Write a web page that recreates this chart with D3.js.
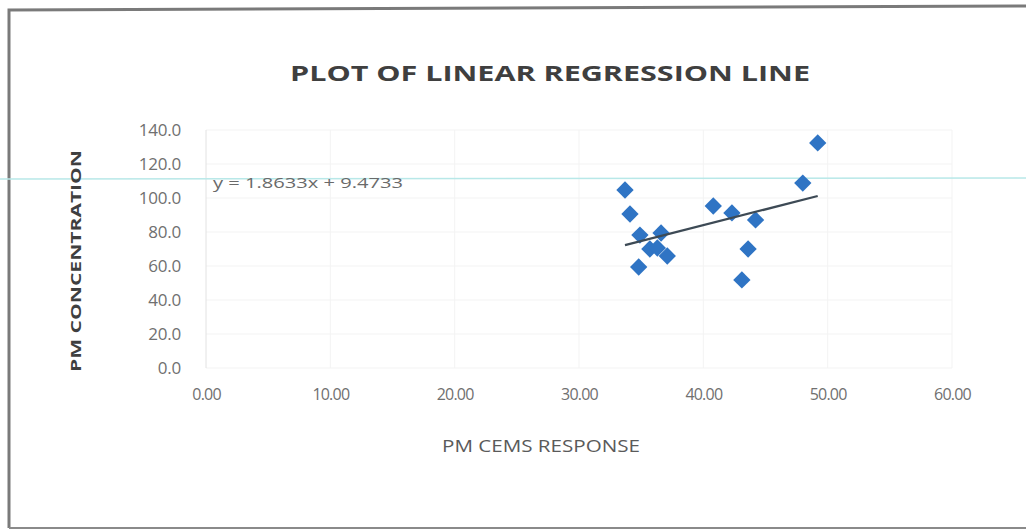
<!DOCTYPE html>
<html><head><meta charset="utf-8">
<script src="https://cdn.jsdelivr.net/npm/d3@7"></script>
<style>html,body{margin:0;padding:0;background:#fff;}svg{display:block;}</style>
</head><body>
<svg id="chart" width="1026" height="531"></svg>
<script>
const xValues = [33.7, 34.1, 34.9, 36.6, 35.7, 36.3, 37.1, 34.8, 40.8, 42.3, 44.2, 43.6, 43.1, 48.0, 49.2];
const yValues = [104.7, 90.6, 78.2, 79.4, 70.0, 70.6, 65.9, 59.4, 95.3, 91.2, 87.1, 70.0, 51.8, 108.8, 132.4];
const slope = 1.8633, intercept = 9.4733;
const xTicks = [0, 10, 20, 30, 40, 50, 60];
const yTicks = [0, 20, 40, 60, 80, 100, 120, 140];
const title = "PLOT OF LINEAR REGRESSION LINE";
const xTitle = "PM CEMS RESPONSE";
const yTitle = "PM CONCENTRATION";
const eqText = "y = 1.8633x + 9.4733";

const svg = d3.select("#chart");
const font = "'Open Sans', 'Liberation Sans', sans-serif";

// outer border
svg.append("path").attr("d","M9,528 L9,10 L1026,6").attr("fill","none").attr("stroke","#7a7a7a").attr("stroke-width",3);
svg.append("line").attr("x1",9).attr("x2",1026).attr("y1",528).attr("y2",528).attr("stroke","#8a8a8a").attr("stroke-width",2);

const x = d3.scaleLinear().domain([0,60]).range([206,952]);
const y = d3.scaleLinear().domain([0,140]).range([368,130]);

// gridlines
svg.append("g").selectAll("line").data(yTicks).join("line")
  .attr("x1",x(0)).attr("x2",x(60)).attr("y1",d=>y(d)).attr("y2",d=>y(d))
  .attr("stroke","#f3f3f3").attr("stroke-width",1);
svg.append("g").selectAll("line").data(xTicks).join("line")
  .attr("x1",d=>x(d)).attr("x2",d=>x(d)).attr("y1",y(0)).attr("y2",y(140))
  .attr("stroke",(d,i)=>i===0?"#e2e2e2":"#f3f3f3").attr("stroke-width",1);

// axes tick labels
const yAxis = d3.axisLeft(y).tickValues(yTicks).tickFormat(d3.format(".1f")).tickSize(0).tickPadding(0);
const gy = svg.append("g").attr("transform",`translate(${x(0)-25},0)`).call(yAxis);
gy.select(".domain").remove();
gy.selectAll("text").attr("font-family",font).attr("font-size",17).attr("fill","#707070").attr("letter-spacing","-0.2px");

const xAxis = d3.axisBottom(x).tickValues(xTicks).tickFormat(d3.format(".2f")).tickSize(0).tickPadding(0);
const gx = svg.append("g").attr("transform",`translate(0,${y(0)+21})`).call(xAxis);
gx.select(".domain").remove();
gx.selectAll("text").attr("font-family",font).attr("font-size",16).attr("fill","#707070").attr("letter-spacing","-0.8px");

// scan artifact line
svg.append("line").attr("x1",0).attr("x2",1026).attr("y1",179).attr("y2",178)
  .attr("stroke","#b8e8e8").attr("stroke-width",1.5);

// points (diamonds = rotated squares)
const pts = xValues.map((v,i)=>({x:v,y:yValues[i]}));
svg.append("g").selectAll("path").data(pts).join("path")
  .attr("d", d3.symbol().type(d3.symbolSquare).size(150))
  .attr("transform", d=>`translate(${x(d.x)},${y(d.y)}) rotate(45)`)
  .attr("fill","#2f74c4");

// trendline
const xmin = d3.min(xValues), xmax = d3.max(xValues);
const tl = [xmin, xmax].map(v=>({x:v,y:slope*v+intercept}));
svg.append("path").datum(tl)
  .attr("d", d3.line().x(d=>x(d.x)).y(d=>y(d.y)))
  .attr("stroke","#3d4a55").attr("stroke-width",2.2).attr("fill","none");

// equation
svg.append("text").attr("x",213).attr("y",188).text(eqText)
  .attr("font-family",font).attr("font-size",14).attr("fill","#6a6a6a")
  .attr("textLength",190).attr("lengthAdjust","spacingAndGlyphs");

// title
svg.append("text").attr("x",290).attr("y",81).text(title)
  .attr("font-family",font).attr("font-weight","bold").attr("font-size",21).attr("fill","#3f3f3f")
  .attr("textLength",520).attr("lengthAdjust","spacingAndGlyphs");

// axis titles
svg.append("text").attr("x",442).attr("y",452).text(xTitle)
  .attr("font-family",font).attr("font-size",16).attr("fill","#5a5a5a")
  .attr("textLength",198).attr("lengthAdjust","spacingAndGlyphs");
svg.append("text").attr("transform","translate(81,372) rotate(-90)").text(yTitle)
  .attr("font-family",font).attr("font-weight","bold").attr("font-size",15).attr("fill","#3f3f3f")
  .attr("textLength",222).attr("lengthAdjust","spacingAndGlyphs");
</script>
</body></html>
